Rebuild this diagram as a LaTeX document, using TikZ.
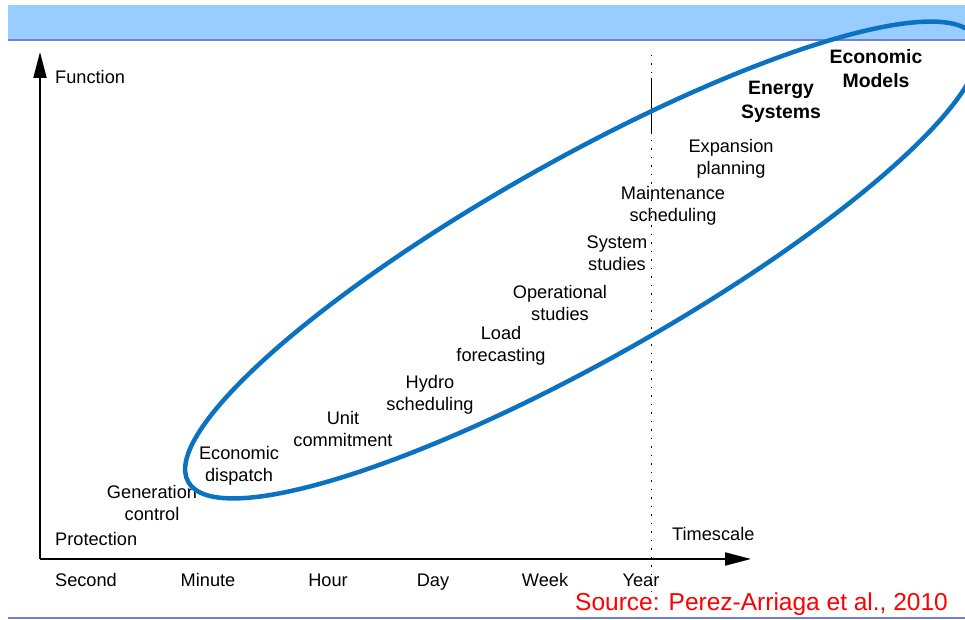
\documentclass[tikz,border=0pt]{standalone}
\usepackage{fontspec}
\setmainfont{Liberation Sans}
\usetikzlibrary{arrows.meta}
\usetikzlibrary{positioning}
\definecolor{bandblue}{HTML}{99CCFF}
\definecolor{bandline}{HTML}{6F7FD8}
\definecolor{ovalblue}{HTML}{0B72C2}
\definecolor{srcred}{HTML}{FF0000}

\begin{document}
\begin{tikzpicture}[x=1pt,y=-1pt,>={Triangle[length=26pt,width=13pt]},
  lbl/.style={align=center,font=\fontsize{18.2}{22}\selectfont,inner sep=0pt},
  blbl/.style={lbl,font=\fontsize{19.4}{24}\selectfont\bfseries},
  tick/.style={lbl,anchor=base},
  axis/.style={line width=2pt,->},
  oval/.style={draw=ovalblue,line width=4.5pt}]
\useasboundingbox (0,0) rectangle (965,620);

% banner and bottom rule
\fill[bandblue] (8,5) rectangle (965,40);
\draw[bandline,line width=1.6pt] (8,40) -- (965,40);
\draw[bandline,line width=1.6pt] (8,618) -- (965,618);

% axes
\coordinate (origin) at (40,559);
\coordinate (ytip) at (40,52);
\coordinate (xtip) at (751,559);
\draw[axis] (origin) -- (ytip);
\draw[axis] (origin) -- (xtip);

% year marker
\coordinate (ytop) at (651,55);
\coordinate (ybot) at (651,592);
\draw[line width=0.8pt,dash pattern=on 1.5pt off 7pt] (ytop) -- (ybot);
\draw[line width=0.8pt] (651,78) -- (651,134);

\node[lbl,anchor=base west] (func) at (55,84) {Function};
\node[lbl,anchor=base west] (tscale) at (672,540) {Timescale};
\node[lbl,anchor=base west] (prot) at (55,545) {Protection};

\node[lbl] (gen) at (152,503) {Generation\\control};
\node[lbl] (ecod) at (239,466) {Economic\\dispatch};
\node[lbl] (unit) at (343,429) {Unit\\commitment};
\node[lbl] (hydro) at (430,395) {Hydro\\scheduling};
\node[lbl] (load) at (501,346) {Load\\forecasting};
\node[lbl] (oper) at (560,303) {Operational\\studies};
\node[lbl] (sys) at (617,253) {System\\studies};
\node[lbl] (maint) at (673,206) {Maintenance\\scheduling};
\node[lbl] (exp) at (731,159) {Expansion\\planning};
\node[blbl] (energy) at (781,102) {Energy\\Systems};
\node[blbl] (ecom) at (876,69) {Economic\\Models};

% the oval
\coordinate (oc) at (582,260);
\draw[oval,rotate around={29.4:(oc)}] (oc) ellipse [x radius=452pt,y radius=100pt];

\node[tick] (sec) at (86,586) {Second};
\node[tick] (min) at (208,586) {Minute};
\node[tick] (hour) at (328,586) {Hour};
\node[tick] (day) at (433,586) {Day};
\node[tick] (week) at (545,586) {Week};
\node[tick] (year) at (641,586) {Year};

\node[anchor=base west,inner sep=0pt,text=srcred,font=\fontsize{24.5}{28}\selectfont] (src) at (575,610) {Source: Perez-Arriaga et al., 2010};

\end{tikzpicture}
\end{document}
